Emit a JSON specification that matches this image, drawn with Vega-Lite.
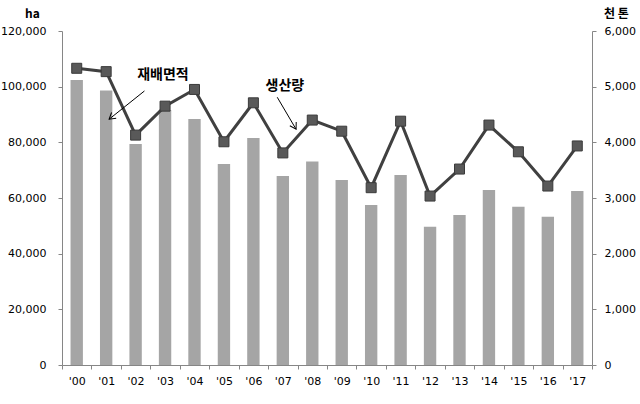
{
  "$schema": "https://vega.github.io/schema/vega-lite/v6.json",
  "width": 530,
  "height": 334,
  "autosize": {"type": "none"},
  "padding": {"left": 62, "top": 31, "right": 48, "bottom": 39},
  "background": "white",
  "config": {
    "view": {"stroke": null},
    "axis": {"labelFont": "DejaVu Sans", "labelFontSize": 11, "labelColor": "#000000", "domainColor": "#868686", "tickColor": "#868686", "grid": false}
  },
  "datasets": {
    "main": [
      {"year": "'00", "area": 102400, "prod": 5330},
      {"year": "'01", "area": 98600, "prod": 5270},
      {"year": "'02", "area": 79400, "prod": 4130},
      {"year": "'03", "area": 91600, "prod": 4650},
      {"year": "'04", "area": 88400, "prod": 4950},
      {"year": "'05", "area": 72200, "prod": 4010},
      {"year": "'06", "area": 81600, "prod": 4710},
      {"year": "'07", "area": 67900, "prod": 3810},
      {"year": "'08", "area": 73100, "prod": 4400},
      {"year": "'09", "area": 66500, "prod": 4200},
      {"year": "'10", "area": 57500, "prod": 3185},
      {"year": "'11", "area": 68300, "prod": 4380},
      {"year": "'12", "area": 49700, "prod": 3035},
      {"year": "'13", "area": 53900, "prod": 3520},
      {"year": "'14", "area": 62900, "prod": 4310},
      {"year": "'15", "area": 56900, "prod": 3830},
      {"year": "'16", "area": 53300, "prod": 3215},
      {"year": "'17", "area": 62500, "prod": 3935}
    ],
    "notes": [
      {"name": "area", "label": "재배면적", "tx": 2.93, "ty": 104200, "x1": 2.30, "y1": 98450, "x2": 1.10, "y2": 88300},
      {"name": "prod", "label": "생산량", "tx": 7.07, "ty": 100250, "x1": 6.81, "y1": 96200, "x2": 7.45, "y2": 84700}
    ]
  },
  "resolve": {"scale": {"x": "independent", "y": "independent"}},
  "layer": [
    {
      "data": {"name": "main"},
      "mark": {"type": "bar", "color": "#A5A5A5", "width": {"band": 0.42}},
      "encoding": {
        "x": {"field": "year", "type": "ordinal", "scale": {"paddingInner": 0, "paddingOuter": 0},
          "axis": {"title": null, "labelAngle": 0, "tickBand": "extent", "tickSize": 4, "labelPadding": 6, "domainColor": "#868686"}},
        "y": {"field": "area", "type": "quantitative", "scale": {"domain": [0, 120000]},
          "axis": {"title": "ha", "titleAngle": 0, "titleX": -30, "titleY": -18, "titleAlign": "center", "titleBaseline": "middle", "titleFont": "Noto Sans CJK KR", "titleFontSize": 12, "titleFontWeight": "bold", "titleColor": "#000000",
            "values": [0, 20000, 40000, 60000, 80000, 100000, 120000], "format": ",d", "tickSize": 4, "labelPadding": 12}}
      }
    },
    {
      "data": {"name": "main"},
      "mark": {"type": "line", "color": "#404040", "strokeWidth": 3},
      "encoding": {
        "x": {"field": "year", "type": "ordinal", "scale": {"paddingInner": 0, "paddingOuter": 0}, "axis": null},
        "y": {"field": "prod", "type": "quantitative", "scale": {"domain": [0, 6000]},
          "axis": {"orient": "right", "title": "천 톤", "titleAngle": 0, "titleX": 24, "titleY": -18, "titleAlign": "center", "titleBaseline": "middle", "titleFont": "Noto Sans CJK KR", "titleFontSize": 12, "titleFontWeight": "bold", "titleColor": "#000000",
            "values": [0, 1000, 2000, 3000, 4000, 5000, 6000], "format": ",d", "tickSize": 4, "labelPadding": 8}}
      }
    },
    {
      "data": {"name": "main"},
      "mark": {"type": "point", "shape": "square", "filled": true, "size": 100, "color": "#595959", "stroke": "#3a3a3a", "strokeWidth": 1, "opacity": 1},
      "encoding": {
        "x": {"field": "year", "type": "ordinal", "scale": {"paddingInner": 0, "paddingOuter": 0}, "axis": null},
        "y": {"field": "prod", "type": "quantitative", "scale": {"domain": [0, 6000]}, "axis": null}
      }
    },
    {
      "data": {"name": "notes"},
      "mark": {"type": "text", "font": "Noto Sans CJK KR", "fontSize": 14, "fontWeight": "bold", "color": "#000000", "align": "center", "baseline": "middle"},
      "encoding": {
        "x": {"field": "tx", "type": "quantitative", "scale": {"domain": [-0.5, 17.5]}, "axis": null},
        "y": {"field": "ty", "type": "quantitative", "scale": {"domain": [0, 120000]}, "axis": null},
        "text": {"field": "label"}
      }
    },
    {
      "data": {"name": "notes"},
      "mark": {"type": "rule", "color": "#000000", "strokeWidth": 1},
      "encoding": {
        "x": {"field": "x1", "type": "quantitative", "scale": {"domain": [-0.5, 17.5]}, "axis": null},
        "x2": {"field": "x2"},
        "y": {"field": "y1", "type": "quantitative", "scale": {"domain": [0, 120000]}, "axis": null},
        "y2": {"field": "y2"}
      }
    },
    {
      "data": {"name": "notes"},
      "transform": [{"filter": "datum.name === 'area'"}],
      "mark": {"type": "point", "shape": "M-0.6,1L0,0L0.6,1", "filled": false, "size": 150, "stroke": "#000000", "strokeWidth": 1, "angle": 231, "opacity": 1},
      "encoding": {
        "x": {"field": "x2", "type": "quantitative", "scale": {"domain": [-0.5, 17.5]}, "axis": null},
        "y": {"field": "y2", "type": "quantitative", "scale": {"domain": [0, 120000]}, "axis": null}
      }
    },
    {
      "data": {"name": "notes"},
      "transform": [{"filter": "datum.name === 'prod'"}],
      "mark": {"type": "point", "shape": "M-0.6,1L0,0L0.6,1", "filled": false, "size": 150, "stroke": "#000000", "strokeWidth": 1, "angle": 150, "opacity": 1},
      "encoding": {
        "x": {"field": "x2", "type": "quantitative", "scale": {"domain": [-0.5, 17.5]}, "axis": null},
        "y": {"field": "y2", "type": "quantitative", "scale": {"domain": [0, 120000]}, "axis": null}
      }
    }
  ]
}
